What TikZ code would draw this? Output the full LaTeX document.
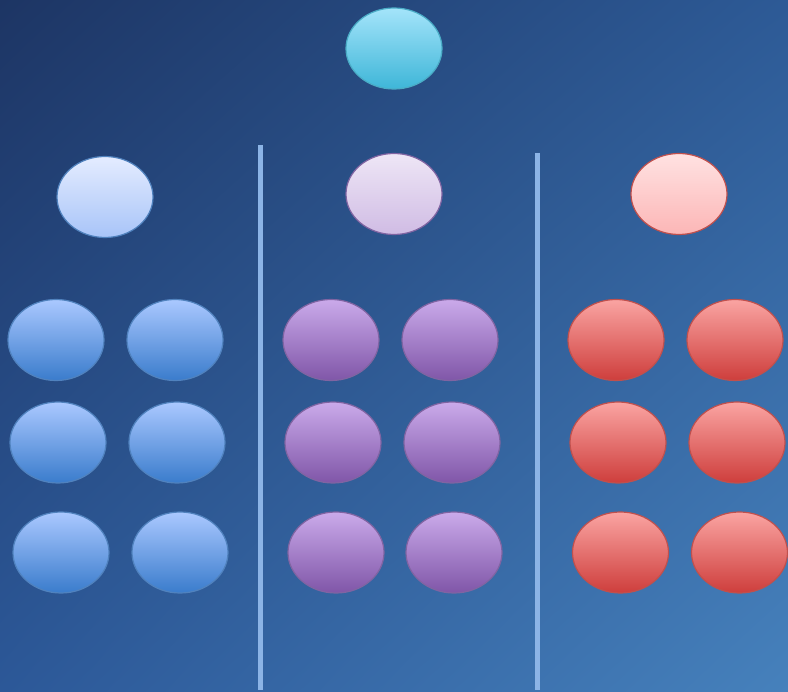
\documentclass[tikz,border=0pt]{standalone}
\usetikzlibrary{shapes.geometric,shadings}
\definecolor{bgUL}{HTML}{1D3564}
\definecolor{bgUR}{HTML}{2D5A96}
\definecolor{bgLL}{HTML}{2C5898}
\definecolor{bgLR}{HTML}{4681BC}
\definecolor{divline}{HTML}{8CB4E6}
\tikzset{
  bub/.style={ellipse, minimum width=96pt, minimum height=81pt, inner sep=0pt, line width=1.2pt},
  cyanbub/.style={bub, top color={rgb,255:red,164;green,228;blue,250}, bottom color={rgb,255:red,62;green,182;blue,216}, draw={rgb,255:red,74;green,172;blue,198}},
  lblue/.style={bub, top color={rgb,255:red,228;green,236;blue,255}, bottom color={rgb,255:red,168;green,196;blue,248}, draw={rgb,255:red,79;green,129;blue,189}},
  lpurp/.style={bub, top color={rgb,255:red,238;green,230;blue,246}, bottom color={rgb,255:red,208;green,188;blue,228}, draw={rgb,255:red,128;green,100;blue,162}},
  lred/.style={bub, top color={rgb,255:red,255;green,226;blue,226}, bottom color={rgb,255:red,252;green,182;blue,182}, draw={rgb,255:red,192;green,80;blue,77}},
  gblue/.style={bub, top color={rgb,255:red,170;green,200;blue,255}, bottom color={rgb,255:red,58;green,124;blue,204}, draw={rgb,255:red,80;green,130;blue,190}},
  gpurp/.style={bub, top color={rgb,255:red,202;green,170;blue,234}, bottom color={rgb,255:red,128;green,86;blue,168}, draw={rgb,255:red,128;green,100;blue,162}},
  gred/.style={bub, top color={rgb,255:red,250;green,164;blue,162}, bottom color={rgb,255:red,206;green,62;blue,60}, draw={rgb,255:red,192;green,80;blue,77}},
  divider/.style={draw=divline, line width=5pt}
}
\begin{document}
\begin{tikzpicture}[x=1pt,y=-1pt]
\useasboundingbox (0,0) rectangle (788,692);
\shade[upper left=bgUL, upper right=bgUR, lower left=bgLL, lower right=bgLR] (0,0) rectangle (788,692);
% dividers
\coordinate (d1t) at (260.5,145);
\coordinate (d1b) at (260.5,690);
\coordinate (d2t) at (537,153);
\coordinate (d2b) at (537,690);
\draw[divider] (d1t) -- (d1b);
\draw[divider] (d2t) -- (d2b);
% top
\node[cyanbub] (top) at (394,48.5) {};
% level 2
\node[lblue] (lb) at (105,197) {};
\node[lpurp] (lp) at (394,194) {};
\node[lred] (lr) at (679,194) {};
% blue grid
\node[gblue] (b11) at (56,340) {};
\node[gblue] (b12) at (175,340) {};
\node[gblue] (b21) at (58,442.5) {};
\node[gblue] (b22) at (177,442.5) {};
\node[gblue] (b31) at (61,552.5) {};
\node[gblue] (b32) at (180,552.5) {};
% purple grid
\node[gpurp] (p11) at (331,340) {};
\node[gpurp] (p12) at (450,340) {};
\node[gpurp] (p21) at (333,442.5) {};
\node[gpurp] (p22) at (452,442.5) {};
\node[gpurp] (p31) at (336,552.5) {};
\node[gpurp] (p32) at (454,552.5) {};
% red grid
\node[gred] (r11) at (616,340) {};
\node[gred] (r12) at (735,340) {};
\node[gred] (r21) at (618,442.5) {};
\node[gred] (r22) at (737,442.5) {};
\node[gred] (r31) at (620.5,552.5) {};
\node[gred] (r32) at (739.5,552.5) {};
\end{tikzpicture}
\end{document}
